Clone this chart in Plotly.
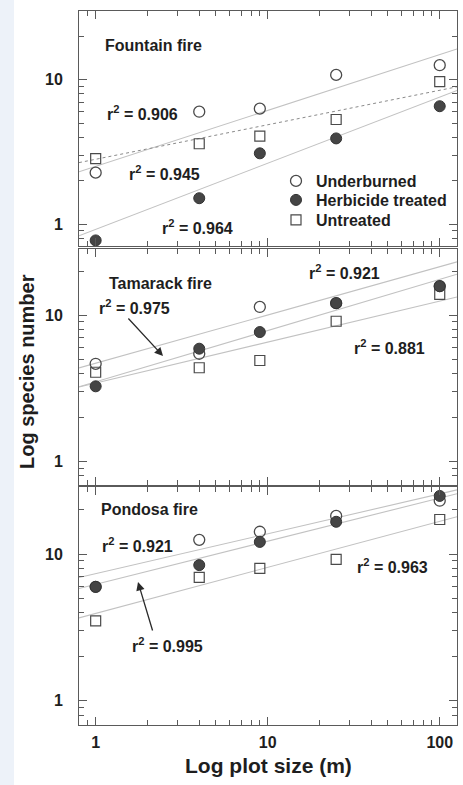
import numpy as np
import plotly.graph_objects as go
from plotly.subplots import make_subplots

# ---------------- data ----------------
plot_size = [1, 4, 9, 25, 100]
panel_names = ["Fountain fire", "Tamarack fire", "Pondosa fire"]
series_names = ["Underburned", "Herbicide treated", "Untreated"]

fountain_underburned = [2.27, 6.0, 6.3, 10.8, 12.6]
fountain_herbicide = [0.77, 1.51, 3.09, 3.92, 6.55]
fountain_untreated = [2.84, 3.6, 4.06, 5.3, 9.7]

tamarack_underburned = [4.66, 5.46, 11.4, 12.1, 15.8]
tamarack_herbicide = [3.27, 5.91, 7.68, 12.1, 15.8]
tamarack_untreated = [4.08, 4.38, 4.91, 9.1, 13.9]

pondosa_underburned = [5.98, 12.5, 14.2, 18.2, 23.1]
pondosa_herbicide = [5.98, 8.41, 12.1, 16.6, 24.9]
pondosa_untreated = [3.51, 6.93, 8.0, 9.2, 17.2]

# regression lines (power law y = a * x^b)
fountain_fit_a = [2.51, 0.919, 2.81]
fountain_fit_b = [0.387, 0.458, 0.239]
tamarack_fit_a = [4.70, 3.51, 3.44]
tamarack_fit_b = [0.330, 0.350, 0.280]
pondosa_fit_a = [7.35, 6.22, 3.94]
pondosa_fit_b = [0.272, 0.294, 0.314]

fountain_r2 = ["0.906", "0.964", "0.945"]
tamarack_r2 = ["0.921", "0.975", "0.881"]
pondosa_r2 = ["0.921", "0.995", "0.963"]

x_tick_vals = [1, 10, 100]
x_tick_text = ["1", "10", "100"]
y_tick_vals = [1, 10]
y_tick_text = ["1", "10"]
x_minor = [0.9, 2, 3, 4, 5, 6, 7, 8, 9, 20, 30, 40, 50, 60, 70, 80, 90]
y_minor = [0.8, 0.9, 2, 3, 4, 5, 6, 7, 8, 9, 20, 30]

panel_values = [
    [fountain_underburned, fountain_herbicide, fountain_untreated],
    [tamarack_underburned, tamarack_herbicide, tamarack_untreated],
    [pondosa_underburned, pondosa_herbicide, pondosa_untreated],
]
panel_fit_a = [fountain_fit_a, tamarack_fit_a, pondosa_fit_a]
panel_fit_b = [fountain_fit_b, tamarack_fit_b, pondosa_fit_b]

# ---------------- layout geometry ----------------
W, H = 463, 785
ML, MR, MT, MB = 79, 6, 11, 60
PW, PH = W - ML - MR, H - MT - MB
X_MIN, X_MAX = 0.8, 126.0
y_ranges = [[-0.152, 1.476], [-0.16, 1.453], [-0.165, 1.457]]
y_domains = [[0.6709, 1.0], [0.3361, 0.6667], [0.0, 0.3333]]


def P(px, py):
    return (px - ML) / PW, 1 - (py - MT) / PH


FONT = "Liberation Sans, Arial, Helvetica, sans-serif"
TXT = "#1e1e1e"
AX = "#5a5a5a"

fig = make_subplots(rows=3, cols=1, shared_xaxes=False, vertical_spacing=0.01)

marker_styles = [
    dict(symbol="circle-open", size=11, color="#4a4a4a", line=dict(width=1.3, color="#4a4a4a")),
    dict(symbol="circle", size=11, color="#454545", line=dict(width=1, color="#333333")),
    dict(symbol="square-open", size=10, color="#4a4a4a", line=dict(width=1.2, color="#4a4a4a")),
]
legend_ids = ["legend", "legend2", "legend3"]
draw_order = [0, 2, 1]

for p in range(3):
    row = p + 1
    # regression lines
    for s in range(3):
        a, b = panel_fit_a[p][s], panel_fit_b[p][s]
        xs = np.array([X_MIN, X_MAX])
        ys = a * xs ** b
        if p == 0 and s == 2:
            ln = dict(color="#8a8a8a", width=1, dash="dot")
        else:
            ln = dict(color="#c2c2c2", width=1.1)
        fig.add_trace(go.Scatter(x=xs, y=ys, mode="lines", line=ln,
                                 showlegend=False, hoverinfo="skip"), row=row, col=1)
    # points
    for s in draw_order:
        fig.add_trace(go.Scatter(x=plot_size, y=panel_values[p][s], mode="markers",
                                 marker=marker_styles[s], name=series_names[s],
                                 showlegend=(p == 0), legend=legend_ids[s]),
                      row=row, col=1)

axis_common = dict(
    type="log", showline=True, linecolor=AX, linewidth=1, mirror="allticks",
    ticks="inside", ticklen=8, tickwidth=1, tickcolor=AX, showgrid=False, zeroline=False,
    minor=dict(ticks="inside", ticklen=5, tickwidth=1, tickcolor=AX, showgrid=False,
               tickmode="array"),
)

for p in range(3):
    xa = "xaxis" if p == 0 else f"xaxis{p+1}"
    ya = "yaxis" if p == 0 else f"yaxis{p+1}"
    xcfg = dict(axis_common)
    xcfg.update(range=[np.log10(X_MIN), np.log10(X_MAX)], domain=[0, 1],
                tickmode="array", tickvals=x_tick_vals, ticktext=x_tick_text,
                showticklabels=(p == 2),
                tickfont=dict(family=FONT, size=16, color=TXT, weight="bold"),
                ticklabelstandoff=3)
    xcfg["minor"] = dict(axis_common["minor"], tickvals=x_minor)
    ycfg = dict(axis_common)
    ycfg.update(range=y_ranges[p], domain=y_domains[p],
                tickmode="array", tickvals=y_tick_vals, ticktext=y_tick_text,
                tickfont=dict(family=FONT, size=16, color=TXT, weight="bold"),
                ticklabelstandoff=12)
    ycfg["minor"] = dict(axis_common["minor"], tickvals=y_minor)
    fig.layout[xa].update(xcfg)
    fig.layout[ya].update(ycfg)

annotations = []


def text_at(px, py, txt, size=16):
    x, y = P(px, py)
    annotations.append(dict(x=x, y=y, xref="paper", yref="paper", text=txt,
                            showarrow=False, xanchor="left", yanchor="middle",
                            font=dict(family=FONT, size=size, color=TXT, weight="bold")))


def r2(v):
    return "r<sup>2</sup> = " + v


# panel titles
text_at(103, 45, panel_names[0])
text_at(107, 283, panel_names[1])
text_at(99, 510, panel_names[2])
# r2 labels
text_at(105, 113, r2(fountain_r2[0]))
text_at(160, 227, r2(fountain_r2[1]))
text_at(127, 173, r2(fountain_r2[2]))
text_at(307, 272, r2(tamarack_r2[0]))
text_at(97, 307, r2(tamarack_r2[1]))
text_at(352, 347, r2(tamarack_r2[2]))
text_at(100, 545, r2(pondosa_r2[0]))
text_at(130, 645, r2(pondosa_r2[1]))
text_at(355, 566, r2(pondosa_r2[2]))

# arrows
for (hx, hy, tx, ty) in [(163, 356, 127, 317), (138, 582, 153, 632)]:
    x, y = P(hx, hy)
    annotations.append(dict(x=x, y=y, xref="paper", yref="paper", text="",
                            showarrow=True, ax=tx - hx, ay=ty - hy,
                            arrowhead=2, arrowsize=1.3, arrowwidth=1.3,
                            arrowcolor="#2a2a2a"))

# axis titles
xt, yt = P(268, 765)
annotations.append(dict(x=xt, y=yt, xref="paper", yref="paper", text="Log plot size (m)",
                        showarrow=False, xanchor="center", yanchor="middle",
                        font=dict(family=FONT, size=21, color=TXT, weight="bold")))
xt, yt = P(27, 372)
annotations.append(dict(x=xt, y=yt, xref="paper", yref="paper", text="Log species number",
                        showarrow=False, xanchor="center", yanchor="middle", textangle=-90,
                        font=dict(family=FONT, size=20, color=TXT, weight="bold")))

legend_rows = [181, 200, 220]
legend_cfg = {}
for i, lid in enumerate(legend_ids):
    lx, ly = P(276, legend_rows[i])
    legend_cfg[lid] = dict(x=lx, y=ly, xanchor="left", yanchor="middle",
                           bgcolor="rgba(0,0,0,0)",
                           font=dict(family=FONT, size=16, color=TXT, weight="bold"),
                           itemwidth=30, tracegroupgap=0)

x0, _ = P(0, 0)
x1, _ = P(14, 0)
fig.update_layout(
    width=W, height=H,
    margin=dict(l=ML, r=MR, t=MT, b=MB),
    paper_bgcolor="white", plot_bgcolor="white",
    annotations=annotations,
    showlegend=True,
    shapes=[dict(type="rect", xref="paper", yref="paper", x0=x0, x1=x1,
                 y0=-0.1, y1=1.1, fillcolor="#edf2f9", line=dict(width=0), layer="below")],
    **legend_cfg,
)

fig.write_html("out.html", config={"displayModeBar": False},
               post_script="document.body.style.margin='0';")
